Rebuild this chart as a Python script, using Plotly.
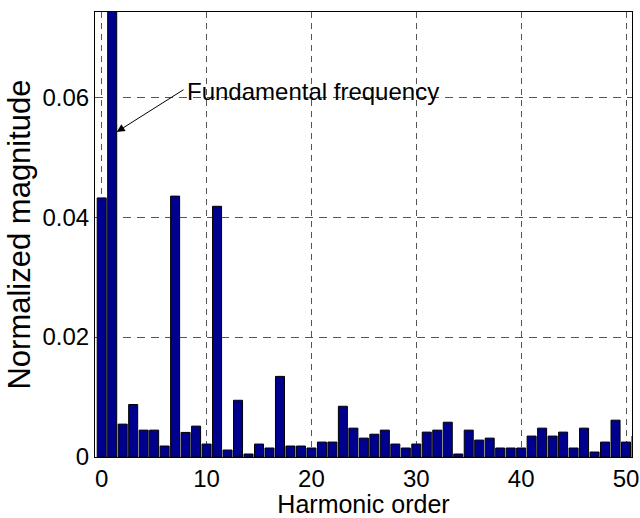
import plotly.graph_objects as go

harmonic_order = list(range(0, 52))
magnitude = [
    0.0432, 1.0, 0.00548, 0.00875, 0.00448, 0.00448, 0.00183, 0.0435, 0.0041, 0.00515,
    0.00216, 0.0418, 0.00116, 0.00946, 0.0005, 0.00216, 0.0015, 0.01344, 0.00183, 0.00183,
    0.0015, 0.00249, 0.00249, 0.00846, 0.00481, 0.00315, 0.0038, 0.00448, 0.00216, 0.0015,
    0.00216, 0.00415, 0.00448, 0.0058, 0.0005, 0.00448, 0.00282, 0.00315, 0.0015, 0.0015,
    0.0015, 0.00349, 0.00481, 0.00349, 0.00415, 0.0015, 0.00481, 0.00083, 0.00249, 0.00614,
    0.00249, 0.00349,
]
x_ticks = [0, 10, 20, 30, 40, 50]
x_tick_labels = ["0", "10", "20", "30", "40", "50"]
y_ticks = [0, 0.02, 0.04, 0.06]
y_tick_labels = ["0", "0.02", "0.04", "0.06"]

FONT = "Liberation Sans, Arial, sans-serif"

fig = go.Figure()
fig.add_trace(go.Bar(
    x=harmonic_order, y=magnitude, width=0.86,
    marker=dict(color="#00008F", line=dict(color="black", width=1)),
    showlegend=False,
))

fig.update_layout(
    width=640, height=518,
    margin=dict(l=95, r=8, t=12, b=61),
    paper_bgcolor="white", plot_bgcolor="white",
    font=dict(family=FONT, color="black"),
)
fig.update_xaxes(
    range=[-0.64, 50.57], tickvals=x_ticks, ticktext=x_tick_labels, automargin=False,
    tickfont=dict(size=24, family=FONT), showline=True, linecolor="black", linewidth=1,
    mirror=True, showgrid=True, gridcolor="#555555", griddash="6px,5px", gridwidth=1,
    zeroline=False, ticks="",
    title=dict(text="Harmonic order", font=dict(size=25, family=FONT), standoff=3),
)
fig.update_yaxes(
    range=[0, 0.0742], tickvals=y_ticks, ticktext=y_tick_labels, automargin=False,
    tickfont=dict(size=24, family=FONT), showline=True, linecolor="black", linewidth=1,
    mirror=True, showgrid=True, gridcolor="#555555", griddash="8px,6px", gridwidth=1,
    zeroline=False, ticks="",
    title=dict(text="Normalized magnitude", font=dict(size=31, family=FONT), standoff=2),
)

fig.add_annotation(
    x=1.43, y=0.0542, ax=7.94, ay=0.0614, xref="x", yref="y", axref="x", ayref="y",
    text="", showarrow=True, arrowhead=2, arrowsize=1.6, arrowwidth=1, arrowcolor="black",
)
fig.add_annotation(
    x=7.94, y=0.0609, xref="x", yref="y", text="Fundamental frequency",
    showarrow=False, xanchor="left", yanchor="middle",
    font=dict(size=24, family=FONT, color="black"),
)

fig.write_html(
    "out.html",
    config={"displayModeBar": False},
    post_script="document.body.style.margin='0';document.body.style.overflow='hidden';",
)
